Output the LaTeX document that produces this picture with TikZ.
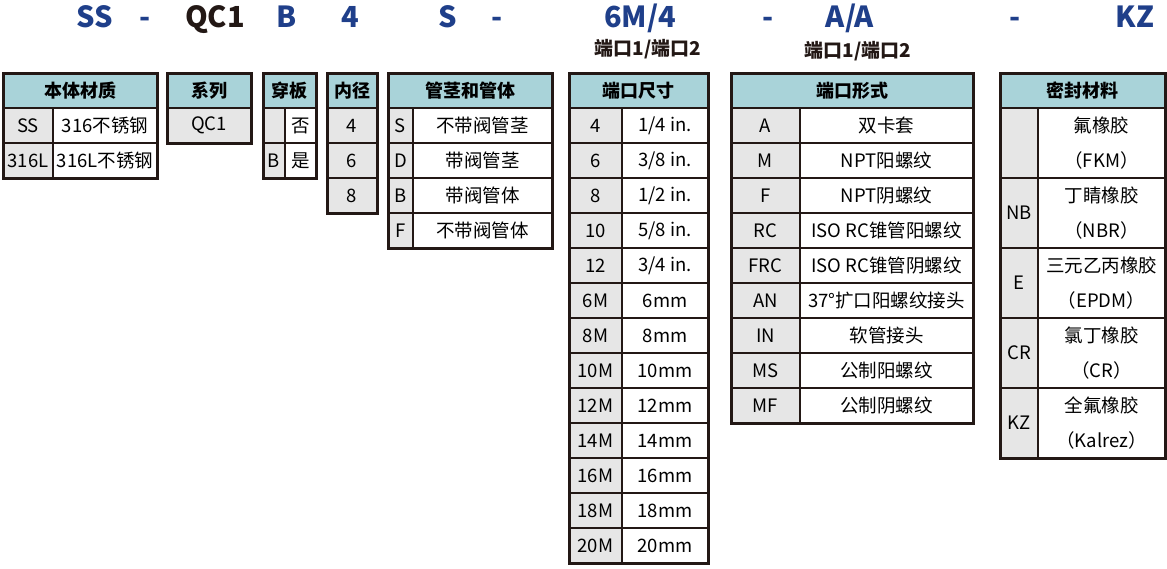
\documentclass[tikz,border=0pt]{standalone}
\usepackage{fontspec}
\setmainfont{Noto Sans CJK SC}
\definecolor{hd}{HTML}{A9D3D9}
\definecolor{gc}{HTML}{E6E6E6}
\definecolor{ln}{HTML}{231815}
\definecolor{bl}{HTML}{1F3F8A}
\tikzset{cb/.style={draw=ln,line width=1.5pt,inner sep=0pt,font=\fontsize{18.5}{35}\selectfont,align=center},
 code/.style={font=\fontsize{29}{30}\bfseries\selectfont,text=bl,inner sep=0pt,anchor=base},
 sub/.style={font=\fontsize{19}{22}\bfseries\selectfont,text=ln,inner sep=0pt},
 outer/.style={draw=ln,line width=3pt}}
\newcommand\cl[7]{\node[cb,fill=#6,minimum width={((#3)-(#2))*1pt},minimum height={((#5)-(#4))*1pt}] (#1) at ({((#2)+(#3))/2},{((#4)+(#5))/2}) {#7};}
\newcommand\hd[6]{\node[cb,fill=hd,minimum width={((#3)-(#2))*1pt},minimum height={((#5)-(#4))*1pt},font=\fontsize{18}{20}\bfseries\selectfont] (#1) at ({((#2)+(#3))/2},{((#4)+(#5))/2}) {#6};}
\begin{document}
\begin{tikzpicture}[x=1pt,y=-1pt]
\useasboundingbox (0,0) rectangle (1167,568);
% codes
\node[code] (c1) at (95,27) {SS};
\node[code] (c2) at (145,27) {-};
\node[code,text=ln] (c3) at (215,27) {QC1};
\node[code] (c4) at (287,27) {B};
\node[code] (c5) at (350,27) {4};
\node[code] (c6) at (448,27) {S};
\node[code] (c7) at (497,27) {-};
\node[code] (c8) at (640,27) {6M/4};
\node[code] (c9) at (768,27) {-};
\node[code] (c10) at (850,27) {A/A};
\node[code] (c11) at (1015,27) {-};
\node[code] (c12) at (1135,27) {KZ};
\node[sub] (s1) at (648,49) {端口1/端口2};
\node[sub] (s2) at (858,51) {端口1/端口2};
% table 1
\hd{h1}{3}{157}{73}{108}{本体材质}
\cl{a1}{3}{53}{108}{143}{gc}{SS}\cl{b1}{53}{157}{108}{143}{white}{316不锈钢}
\cl{a2}{3}{53}{143}{178}{gc}{316L}\cl{b2}{53}{157}{143}{178}{white}{316L不锈钢}
\draw[outer] (3,73) rectangle (157,178);
% table 2
\hd{h2}{167}{251}{73}{108}{系列}
\cl{q1}{167}{251}{108}{143}{gc}{QC1}
\draw[outer] (167,73) rectangle (251,143);
% table 3
\hd{h3}{263}{316}{73}{108}{穿板}
\cl{p1}{263}{285}{108}{143}{gc}{}\cl{p2}{285}{316}{108}{143}{white}{否}
\cl{p3}{263}{285}{143}{178}{gc}{B}\cl{p4}{285}{316}{143}{178}{white}{是}
\draw[outer] (263,73) rectangle (316,178);
% table 4
\hd{h4}{327}{377}{73}{108}{内径}
\foreach \t [count=\i from 0] in {4,6,8}{\cl{d\i}{327}{377}{108+35*\i}{143+35*\i}{gc}{\t}}
\draw[outer] (327,73) rectangle (377,213);
% table 5
\hd{h5}{388}{552}{73}{108}{管茎和管体}
\foreach \a/\b [count=\i from 0] in {S/不带阀管茎,D/带阀管茎,B/带阀管体,F/不带阀管体}{
 \cl{e\i}{388}{413}{108+35*\i}{143+35*\i}{gc}{\a}\cl{f\i}{413}{552}{108+35*\i}{143+35*\i}{white}{\b}}
\draw[outer] (388,73) rectangle (552,248);
% table 6
\hd{h6}{569}{708}{73}{108}{端口尺寸}
\foreach \a/\b [count=\i from 0] in {4/1\slash4 in.,6/3\slash8 in.,8/1\slash2 in.,10/5\slash8 in.,12/3\slash4 in.,6M/6mm,8M/8mm,10M/10mm,12M/12mm,14M/14mm,16M/16mm,18M/18mm,20M/20mm}{
 \cl{g\i}{569}{622}{108+35*\i}{143+35*\i}{gc}{\a}\cl{k\i}{622}{708}{108+35*\i}{143+35*\i}{white}{\b}}
\draw[outer] (569,73) rectangle (708,563);
% table 7
\hd{h7}{731}{973}{73}{108}{端口形式}
\foreach \a/\b [count=\i from 0] in {A/双卡套,M/NPT阳螺纹,F/NPT阴螺纹,RC/ISO RC锥管阳螺纹,FRC/ISO RC锥管阴螺纹,AN/37°扩口阳螺纹接头,IN/软管接头,MS/公制阳螺纹,MF/公制阴螺纹}{
 \cl{m\i}{731}{800}{108+35*\i}{143+35*\i}{gc}{\a}\cl{n\i}{800}{973}{108+35*\i}{143+35*\i}{white}{\b}}
\draw[outer] (731,73) rectangle (973,423);
% table 8
\hd{h8}{1000}{1165}{73}{108}{密封材料}
\foreach \a/\b/\c [count=\i from 0] in {/氟橡胶/（FKM）,NB/丁睛橡胶/（NBR）,E/三元乙丙橡胶/（EPDM）,CR/氯丁橡胶/（CR）,KZ/全氟橡胶/（Kalrez）}{
 \cl{r\i}{1000}{1038}{108+70*\i}{178+70*\i}{gc}{\a}\cl{t\i}{1038}{1165}{108+70*\i}{178+70*\i}{white}{\b\\\c}}
\draw[outer] (1000,73) rectangle (1165,458);
\end{tikzpicture}
\end{document}
